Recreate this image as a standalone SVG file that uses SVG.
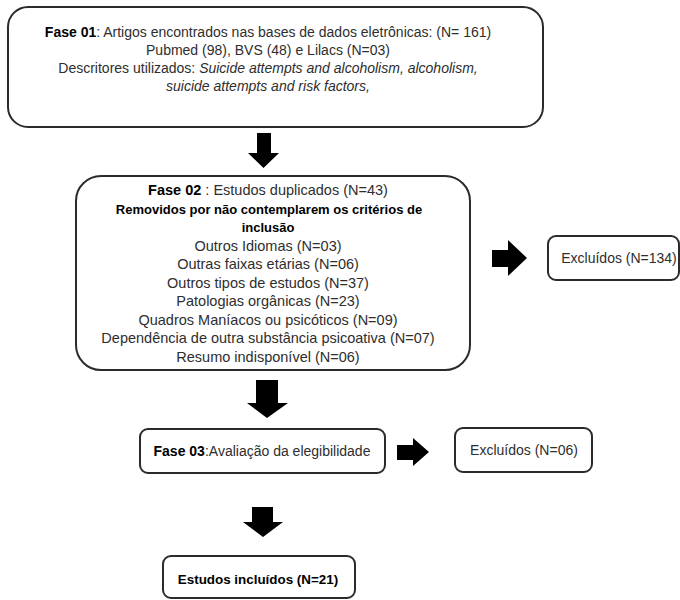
<svg xmlns="http://www.w3.org/2000/svg" width="680" height="600" viewBox="0 0 680 600">
<style>
.box{fill:#fff;stroke:#2b2b2b;stroke-width:2}
.t{font-family:"Liberation Sans",Arial,sans-serif;font-size:14px;fill:#2e2e2e;text-anchor:middle}
.t2{font-size:14.5px}
.b{font-weight:bold;fill:#000}
.bl{font-size:13px}
.i{font-style:italic}
.arrow{fill:#000}
</style>
<rect width="680" height="600" fill="#fff"/>
<g id="fase01">
<rect class="box" x="8" y="7" width="535" height="120" rx="20"/>
<text class="t" x="268" y="37"><tspan class="b">Fase 01</tspan>: Artigos encontrados nas bases de dados eletrônicas: (N= 161)</text>
<text class="t" x="268" y="55">Pubmed (98), BVS (48) e Lilacs (N=03)</text>
<text class="t" x="268" y="73">Descritores utilizados: <tspan class="i">Suicide attempts and alcoholism, alcoholism,</tspan></text>
<text class="t i" x="268" y="91">suicide attempts and risk factors,</text>
</g>
<g id="fase02">
<rect class="box" x="76" y="176" width="394" height="194" rx="25"/>
<text class="t t2" x="268" y="195"><tspan class="b">Fase 02</tspan> : Estudos duplicados (N=43)</text>
<text class="t b bl" x="269" y="213.5">Removidos por não contemplarem os critérios de</text>
<text class="t b bl" x="268" y="232">inclusão</text>
<text class="t t2" x="268" y="250.5">Outros Idiomas (N=03)</text>
<text class="t t2" x="268" y="269">Outras faixas etárias (N=06)</text>
<text class="t t2" x="268" y="287.5">Outros tipos de estudos (N=37)</text>
<text class="t t2" x="268" y="306">Patologias orgânicas (N=23)</text>
<text class="t t2" x="268" y="324.5">Quadros Maníacos ou psicóticos (N=09)</text>
<text class="t t2" x="268" y="343">Dependência de outra substância psicoativa (N=07)</text>
<text class="t t2" x="268" y="361.5">Resumo indisponível (N=06)</text>
</g>
<g id="excluidos134">
<rect class="box" x="548" y="236" width="131" height="44" rx="8"/>
<text class="t" x="619" y="263">Excluídos (N=134)</text>
</g>
<g id="fase03">
<rect class="box" x="140" y="429" width="245" height="44" rx="8"/>
<text class="t" x="262" y="456"><tspan class="b">Fase 03</tspan>:Avaliação da elegibilidade</text>
</g>
<g id="excluidos06">
<rect class="box" x="455" y="428" width="137" height="44" rx="8"/>
<text class="t" x="524" y="455">Excluídos (N=06)</text>
</g>
<g id="incluidos">
<rect class="box" x="163" y="556" width="192" height="42" rx="8"/>
<text class="t b" x="258" y="584" style="font-size:13.4px">Estudos incluídos (N=21)</text>
</g>
<g id="connectors">
<polygon class="arrow" points="257,133 271,133 271,153 279,153 263.5,168 248,153 257,153"/>
<polygon class="arrow" points="256,380 278,380 278,403 288,403 267,418 247,403 256,403"/>
<polygon class="arrow" points="252,507 273,507 273,522 283,522 263,537 243,522 252,522"/>
<polygon class="arrow" points="492,250 508,250 508,240 527,258 508,276 508,267 492,267"/>
<polygon class="arrow" points="397,445 413,445 413,438 429,452 413,466 413,460 397,460"/>
</g>
</svg>
